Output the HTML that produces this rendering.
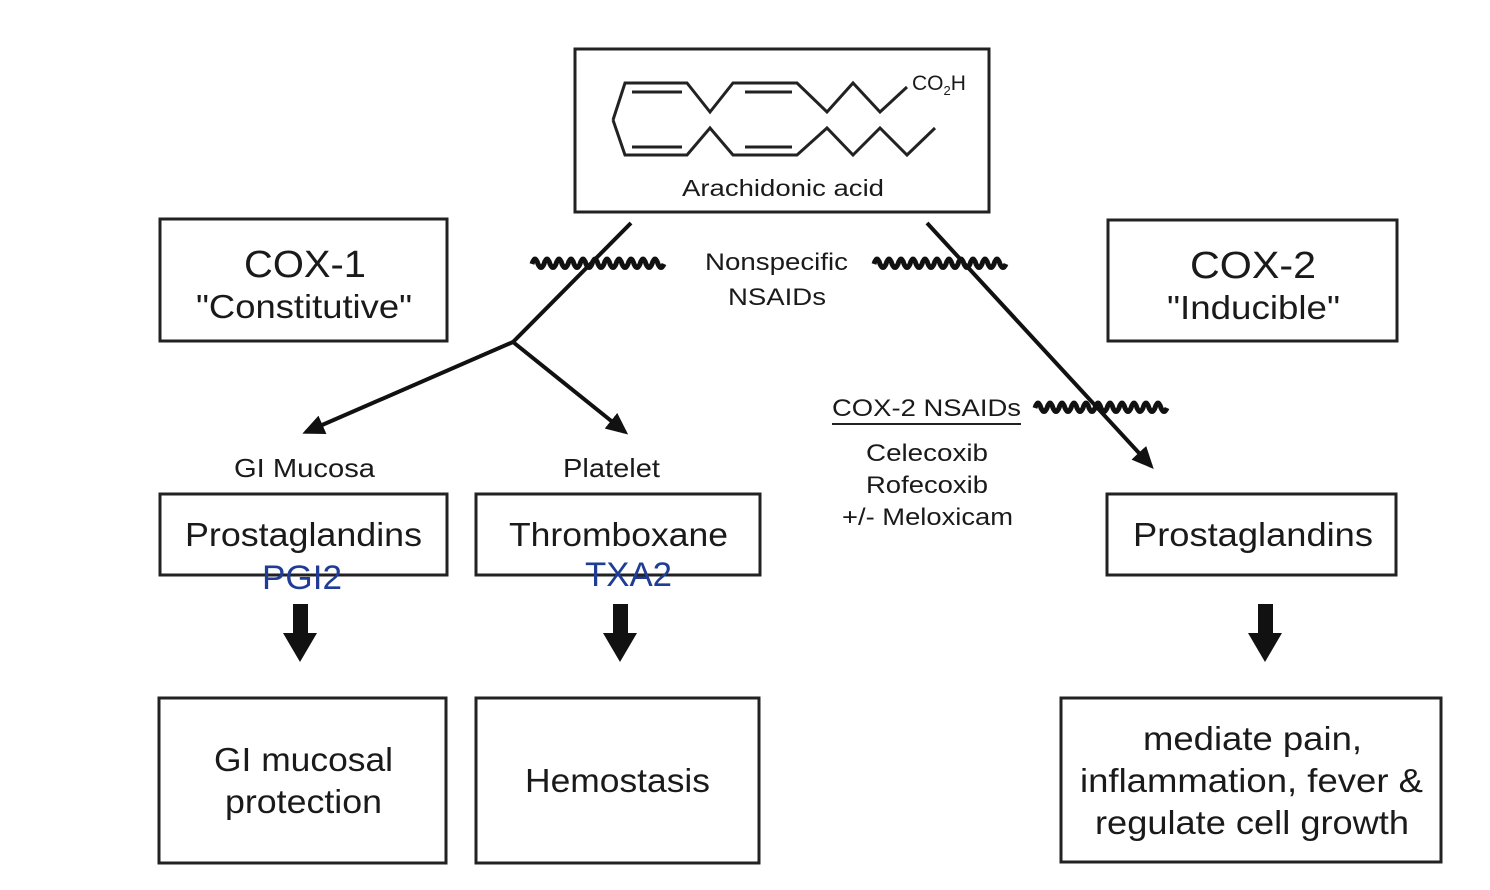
<!DOCTYPE html>
<html><head><meta charset="utf-8"><style>
html,body{margin:0;padding:0;background:#fff;}
svg{display:block;}
text{font-family:"Liberation Sans",sans-serif;fill:#1a1a1a;}
</style></head><body>
<svg id="d" width="1490" height="890" viewBox="0 0 1490 890" xmlns="http://www.w3.org/2000/svg">
<defs>
<marker id="ah2" markerWidth="22" markerHeight="20" refX="18" refY="10" orient="auto" markerUnits="userSpaceOnUse" viewBox="0 0 22 20"><path d="M0,0 L22,10 L0,20 Z" fill="#111"/></marker></defs>

<g>
<rect x="575" y="49" width="414" height="163" fill="none" stroke="#222" stroke-width="3"/>
<g fill="none" stroke="#222" stroke-width="3" stroke-linejoin="miter">
<polyline points="613,120 625,83 687,83 710,112 733,83 797,83 827,112 853,83 880,112 907,87"/>
<polyline points="613,120 625,155 687,155 710,128 733,155 797,155 827,128 853,155 880,128 907,155 935,128"/>
<line x1="632" y1="92" x2="682" y2="92"/><line x1="632" y1="147" x2="682" y2="147"/>
<line x1="745" y1="92" x2="792" y2="92"/><line x1="745" y1="147" x2="792" y2="147"/>
</g>
<text x="912" y="90" font-size="21">CO<tspan font-size="13" dy="5">2</tspan><tspan dy="-5">H</tspan></text>
<text x="682" y="196" font-size="23" textLength="202" lengthAdjust="spacingAndGlyphs">Arachidonic acid</text>
</g>

<g>
<rect x="160" y="219" width="287" height="122" fill="none" stroke="#222" stroke-width="3"/>
<text x="244" y="277" font-size="38" textLength="122" lengthAdjust="spacingAndGlyphs">COX-1</text>
<text x="196" y="318" font-size="33" textLength="216" lengthAdjust="spacingAndGlyphs">"Constitutive"</text>
</g>
<g>
<rect x="1108" y="220" width="289" height="121" fill="none" stroke="#222" stroke-width="3"/>
<text x="1190" y="278" font-size="38" textLength="126" lengthAdjust="spacingAndGlyphs">COX-2</text>
<text x="1167" y="319" font-size="33" textLength="173" lengthAdjust="spacingAndGlyphs">"Inducible"</text>
</g>

<g>
<text x="705" y="270" font-size="24" textLength="143" lengthAdjust="spacingAndGlyphs">Nonspecific</text>
<text x="728" y="305" font-size="24" textLength="98" lengthAdjust="spacingAndGlyphs">NSAIDs</text>
</g>
<g>
<text x="832" y="416" font-size="24" textLength="189" lengthAdjust="spacingAndGlyphs">COX-2 NSAIDs</text>
<line x1="832" y1="424" x2="1021" y2="424" stroke="#222" stroke-width="2"/>
<text x="866" y="461" font-size="24" textLength="122" lengthAdjust="spacingAndGlyphs">Celecoxib</text>
<text x="866" y="493" font-size="24" textLength="122" lengthAdjust="spacingAndGlyphs">Rofecoxib</text>
<text x="842" y="525" font-size="24" textLength="171" lengthAdjust="spacingAndGlyphs">+/- Meloxicam</text>
</g>

<g id="waves" fill="none" stroke="#111" stroke-width="5"></g>

<g fill="none" stroke="#111" stroke-width="4">
<polyline points="631,223 513,342"/>
<line x1="513" y1="342" x2="306" y2="432" marker-end="url(#ah2)"/>
<line x1="513" y1="342" x2="625" y2="432" marker-end="url(#ah2)"/>
<line x1="927" y1="223" x2="1151" y2="466" marker-end="url(#ah2)"/>
</g>

<text x="234" y="477" font-size="26" textLength="141" lengthAdjust="spacingAndGlyphs">GI Mucosa</text>
<text x="563" y="477" font-size="26" textLength="97" lengthAdjust="spacingAndGlyphs">Platelet</text>

<g>
<rect x="160" y="494" width="287" height="81" fill="none" stroke="#222" stroke-width="3"/>
<text x="185" y="546" font-size="33" textLength="237" lengthAdjust="spacingAndGlyphs">Prostaglandins</text>
</g>
<g>
<rect x="476" y="494" width="284" height="81" fill="none" stroke="#222" stroke-width="3"/>
<text x="509" y="546" font-size="33" textLength="219" lengthAdjust="spacingAndGlyphs">Thromboxane</text>
</g>
<g>
<rect x="1107" y="494" width="289" height="81" fill="none" stroke="#222" stroke-width="3"/>
<text x="1133" y="546" font-size="33" textLength="240" lengthAdjust="spacingAndGlyphs">Prostaglandins</text>
</g>
<text x="262" y="589" font-size="34" textLength="80" lengthAdjust="spacingAndGlyphs" style="fill:#1f3c96">PGI2</text>
<text x="585" y="586" font-size="34" textLength="87" lengthAdjust="spacingAndGlyphs" style="fill:#1f3c96">TXA2</text>

<g fill="#111">
<path d="M293,604 H308 V633 H317 L300,662 L283,633 H293 Z"/>
<path d="M613,604 H628 V633 H637 L620,662 L603,633 H613 Z"/>
<path d="M1258,604 H1273 V633 H1282 L1265,662 L1248,633 H1258 Z"/>
</g>

<g>
<rect x="159" y="698" width="287" height="165" fill="none" stroke="#222" stroke-width="3"/>
<text x="214" y="771" font-size="33" textLength="179" lengthAdjust="spacingAndGlyphs">GI mucosal</text>
<text x="225" y="813" font-size="33" textLength="157" lengthAdjust="spacingAndGlyphs">protection</text>
</g>
<g>
<rect x="476" y="698" width="283" height="165" fill="none" stroke="#222" stroke-width="3"/>
<text x="525" y="792" font-size="33" textLength="185" lengthAdjust="spacingAndGlyphs">Hemostasis</text>
</g>
<g>
<rect x="1061" y="698" width="380" height="164" fill="none" stroke="#222" stroke-width="3"/>
<text x="1143" y="750" font-size="33" textLength="219" lengthAdjust="spacingAndGlyphs">mediate pain,</text>
<text x="1080" y="792" font-size="33" textLength="343" lengthAdjust="spacingAndGlyphs">inflammation, fever &amp;</text>
<text x="1095" y="834" font-size="33" textLength="314" lengthAdjust="spacingAndGlyphs">regulate cell growth</text>
</g>
</svg>
<script>
var g=document.getElementById('waves');
function wave(x0,x1,y){var d='M'+x0+','+y;for(var x=x0;x<x1;x+=12){d+=' Q'+(x+3)+','+(y-10)+' '+(x+6)+','+y+' Q'+(x+9)+','+(y+7)+' '+(x+12)+','+y;}
var p=document.createElementNS('http://www.w3.org/2000/svg','path');p.setAttribute('d',d);


g.appendChild(p);}
wave(532,660,264);wave(874,1004,264);wave(1035,1163,408);
</script>
</body></html>
